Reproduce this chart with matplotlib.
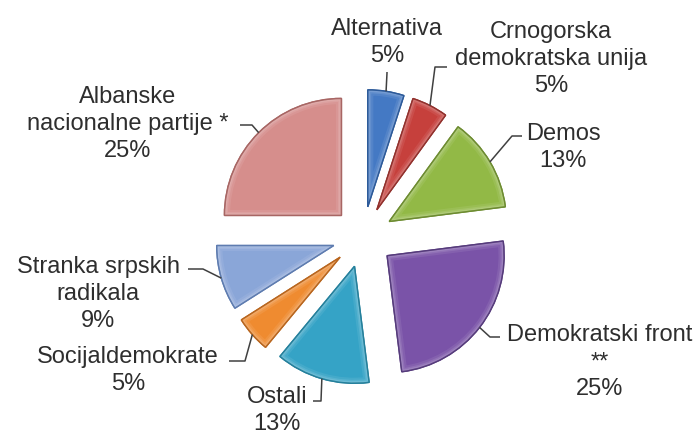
import numpy as np
import matplotlib
matplotlib.use("Agg")
import matplotlib.pyplot as plt
from matplotlib.patches import Wedge

# podaci (procenti)
stranke = ["Alternativa", "Crnogorska\ndemokratska unija", "Demos",
           "Demokratski front\n**", "Ostali", "Socijaldemokrate",
           "Stranka srpskih\nradikala", "Albanske\nnacionalne partije *"]
procenti = [5, 5, 13, 25, 13, 5, 9, 25]
boje = ["#4479c4", "#c6403c", "#92b946", "#7a53a8",
        "#35a3c6", "#ef8b30", "#8aa6d8", "#d68e8c"]
ivice = ["#2c5a9a", "#92302c", "#6d8c30", "#563b7c",
         "#24809c", "#b9661e", "#5e7cb0", "#a86664"]

# raspored natpisa u pikselima (x, baseline zadnjeg reda) od gornjeg lijevog ugla
W, H = 700, 435
pos_teksta = [(387, 62), (551, 92), (563, 167), (600, 395),
              (277, 430), (128, 390), (98, 327), (128, 157)]
# linije: koljeno i pocetak kod teksta
koljena = [(387, 74), (435, 68), (512, 137), (490, 338),
           (321, 402), (245, 362), (203, 270), (252, 126)]
pocetci = [(387, 73), (447, 68), (522, 137), (500, 338),
           (313, 402), (229, 362), (188, 270), (240, 126)]

fig = plt.figure(figsize=(7, 4.35), dpi=100)
ax = fig.add_axes([0, 0, 1, 1])

r = 117
odmak = 30.5  # explode u pikselima
wedges, _ = ax.pie(procenti, colors=boje, startangle=90, counterclock=False,
                   explode=[odmak] * len(procenti), radius=r, center=(363, H - 238),
                   frame=True, wedgeprops=dict(linewidth=1.0))
ax.set_xlim(0, W)
ax.set_ylim(0, H)
ax.set_aspect("equal")
ax.axis("off")

# malo sjencenja (meka svijetla unutrasnja ivica + tamni obrub)
for w, ec in zip(wedges, ivice):
    w.set_edgecolor(ec)
    for lw, a in [(8, 0.08), (5, 0.10), (3, 0.12)]:
        sjaj = Wedge(w.center, w.r, w.theta1, w.theta2, facecolor="none",
                     edgecolor="white", alpha=a, lw=lw, zorder=w.get_zorder() + 0.1)
        ax.add_patch(sjaj)
        sjaj.set_clip_path(w)
    obrub = Wedge(w.center, w.r, w.theta1, w.theta2, facecolor="none",
                  edgecolor=ec, lw=1.0, zorder=w.get_zorder() + 0.2)
    ax.add_patch(obrub)

for i, w in enumerate(wedges):
    ugao = np.deg2rad((w.theta1 + w.theta2) / 2)
    cx, cy = w.center
    px = cx + w.r * np.cos(ugao)
    py = cy + w.r * np.sin(ugao)
    kx, ky = koljena[i]
    sx, sy = pocetci[i]
    ax.plot([px, kx, sx], [py, H - ky, H - sy], color="#404040", lw=1.1,
            solid_capstyle="butt")
    tx, ty = pos_teksta[i]
    ax.text(tx, H - ty, stranke[i] + "\n" + f"{procenti[i]}%", ha="center",
            va="baseline", fontsize=17, family="Liberation Sans",
            color="#2e2e2e", linespacing=1.28, multialignment="center")

fig.savefig("out.png", dpi=100)
